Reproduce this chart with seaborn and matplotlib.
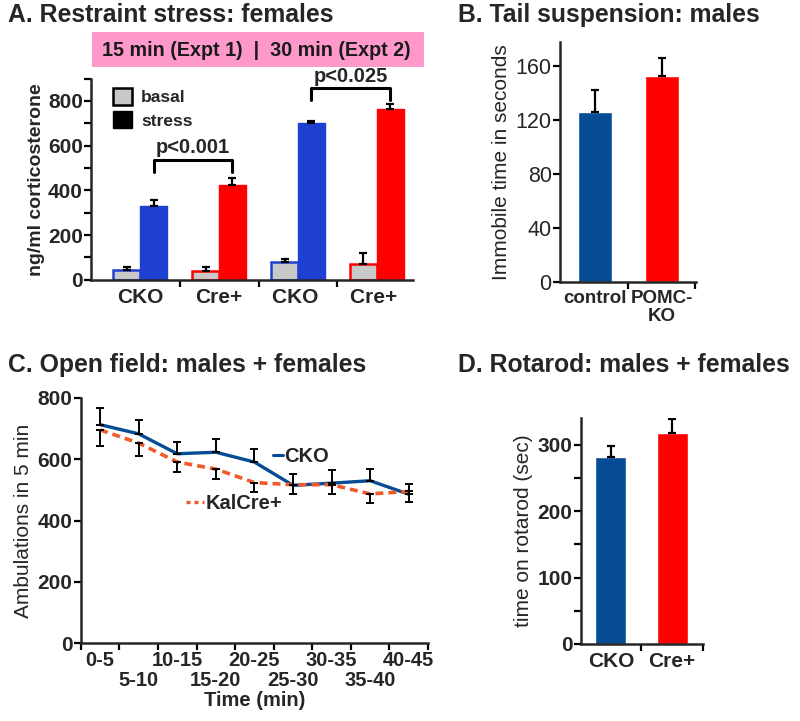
import numpy as np
import pandas as pd
import matplotlib
matplotlib.use('Agg')
import matplotlib.pyplot as plt
from matplotlib.patches import Patch, Rectangle
from matplotlib.lines import Line2D
from matplotlib.ticker import MultipleLocator, FixedLocator, NullFormatter
import seaborn as sns

# panel A: restraint stress, corticosterone (ng/ml)
a_groups = ['CKO', 'Cre+', 'CKO ', 'Cre+ ']
a_basal = [42, 40, 80, 70]
a_basal_err = [14, 15, 12, 50]
a_stress = [330, 425, 700, 765]
a_stress_err = [25, 30, 12, 20]

# panel B: tail suspension
b_groups = ['control', 'POMC-\nKO']
b_vals = [126, 153]
b_err = [16, 13]

# panel C: open field
c_times = ['0-5', '5-10', '10-15', '15-20', '20-25', '25-30', '30-35', '35-40', '40-45']
c_cko = [713, 683, 618, 623, 591, 515, 522, 530, 486]
c_cko_err = [54, 46, 37, 44, 43, 37, 44, 38, 34]
c_kal = [696, 653, 591, 568, 524, 517, 517, 487, 495]
c_kal_err = [52, 42, 31, 31, 32, 31, 31, 30, 36]

# panel D: rotarod
d_groups = ['CKO', 'Cre+']
d_vals = [282, 318]
d_err = [17, 21]

navy = '#064C94'
blue = '#1E40D0'
red = '#FF0000'
orange = '#F05A28'
grey = '#C8C8C8'

sns.set_theme(style='ticks')
plt.rcParams['font.family'] = ['Liberation Sans', 'DejaVu Sans']
plt.rcParams['axes.linewidth'] = 1.8
plt.rcParams['xtick.major.width'] = 1.6
plt.rcParams['ytick.major.width'] = 1.6
plt.rcParams['ytick.minor.width'] = 1.6
plt.rcParams['xtick.minor.width'] = 1.6

fig = plt.figure(figsize=(8, 7.21), dpi=100)

def clean(ax):
    sns.despine(ax=ax)
    ax.tick_params(axis='both', which='major', length=5, color='black', pad=1)
    ax.tick_params(axis='both', which='minor', length=5, color='black')

def caps(ax, patches, errs):
    for p, e in zip(patches, errs):
        xc = p.get_x() + p.get_width() / 2
        ax.errorbar(xc, p.get_height(), yerr=[[0], [e]], color='black',
                    capsize=3, elinewidth=1.6, capthick=1.6)

# ---------- A ----------
axA = fig.add_axes([0.114, 0.612, 0.4025, 0.279])
dfA = pd.DataFrame({
    'group': a_groups * 2,
    'cond': ['basal'] * 4 + ['stress'] * 4,
    'val': a_basal + a_stress,
})
sns.barplot(data=dfA, x='group', y='val', hue='cond', ax=axA, width=0.68,
            legend=False, errorbar=None)
edge_cols = [blue, red, blue, red]
for i, p in enumerate(axA.patches[:4]):
    p.set_facecolor(grey)
    p.set_edgecolor(edge_cols[i])
    p.set_linewidth(1.8)
for i, p in enumerate(axA.patches[4:8]):
    p.set_facecolor(edge_cols[i])
    p.set_edgecolor(edge_cols[i])
caps(axA, axA.patches[:8], a_basal_err + a_stress_err)
axA.set_xlim(-0.62, 3.46)
axA.set_ylim(0, 900)
axA.yaxis.set_major_locator(FixedLocator([0, 200, 400, 600, 800]))
axA.yaxis.set_minor_locator(MultipleLocator(100))
axA.xaxis.set_minor_locator(FixedLocator([0.5, 1.5, 2.5]))
clean(axA)
axA.tick_params(axis='x', which='major', length=0, pad=6)
axA.set_xlabel('')
axA.set_ylabel('ng/ml corticosterone', fontsize=14, fontweight='bold', labelpad=2)
for t in axA.get_xticklabels() + axA.get_yticklabels():
    t.set_fontsize(15)
    t.set_fontweight('bold')

# significance brackets over stress bars
def bracket(ax, p1, p2, y, h, label):
    x1 = p1.get_x() + p1.get_width() / 2
    x2 = p2.get_x() + p2.get_width() / 2
    ax.plot([x1, x1, x2, x2], [y - h, y, y, y - h], color='black', lw=2.2,
            clip_on=False)
    ax.text((x1 + x2) / 2, y + 12, label, ha='center', va='bottom',
            fontsize=14.5, fontweight='bold', clip_on=False)

bracket(axA, axA.patches[4], axA.patches[5], 535, 55, 'p<0.001')
bracket(axA, axA.patches[6], axA.patches[7], 857, 55, 'p<0.025')
axA.legend(handles=[Patch(facecolor=grey, edgecolor='black', lw=1.8),
                    Patch(facecolor='black', edgecolor='black')],
           labels=['basal', 'stress'], loc='upper left', frameon=False,
           bbox_to_anchor=(0.02, 1.03), handlelength=1.1, handleheight=1.1,
           handletextpad=0.5, labelspacing=0.35,
           prop={'weight': 'bold', 'size': 12.5})
fig.text(0.01, 0.979, 'A. Restraint stress: females', fontsize=17.8,
         fontweight='bold', va='center', ha='left')
fig.patches.append(Rectangle(
    (92 / 800, 1 - 67 / 721), (424 - 92) / 800, 35 / 721,
    transform=fig.transFigure, facecolor='#FF99CC', edgecolor='none'))
fig.text(256 / 800, 1 - 50 / 721, '15 min (Expt 1)  |  30 min (Expt 2)',
         fontsize=14.2, fontweight='bold', ha='center', va='center', color='#1a1a1a')

# ---------- B ----------
axB = fig.add_axes([0.70, 0.609, 0.17, 0.333])
dfB = pd.DataFrame({'group': b_groups, 'val': b_vals})
sns.barplot(data=dfB, x='group', y='val', hue='group', palette=[navy, red],
            ax=axB, width=0.5, legend=False, errorbar=None, saturation=1)
caps(axB, axB.patches, b_err)
axB.set_xlim(-0.52, 1.51)
axB.set_ylim(0, 178)
axB.yaxis.set_major_locator(FixedLocator([0, 40, 80, 120, 160]))
axB.xaxis.set_minor_locator(FixedLocator([0.5, 1.5]))
clean(axB)
axB.tick_params(axis='x', which='major', length=0, pad=6)
axB.set_xlabel('')
axB.set_ylabel('Immobile time in seconds', fontsize=15, labelpad=3)
for t in axB.get_yticklabels():
    t.set_fontsize(15.5)
for t in axB.get_xticklabels():
    t.set_fontsize(13.5)
    t.set_fontweight('bold')
    t.set_linespacing(1.05)
fig.text(458 / 800, 0.979, 'B. Tail suspension: males', fontsize=17.8,
         fontweight='bold', va='center', ha='left')

# ---------- C ----------
axC = fig.add_axes([0.101, 0.108, 0.434, 0.34])
dfC = pd.DataFrame({'time': c_times * 2,
                    'geno': ['CKO'] * 9 + ['KalCre+'] * 9,
                    'val': c_cko + c_kal})
sns.lineplot(data=dfC[dfC.geno == 'CKO'], x='time', y='val', ax=axC,
             color=navy, lw=2.4, sort=False)
sns.lineplot(data=dfC[dfC.geno == 'KalCre+'], x='time', y='val', ax=axC,
             color=orange, lw=2.6, ls=(0, (2.2, 1.4)), sort=False)
xs = np.arange(len(c_times))
axC.errorbar(xs, c_cko, yerr=[np.zeros(9), c_cko_err], fmt='none', ecolor='black',
             capsize=3, elinewidth=1.4, capthick=1.4)
axC.errorbar(xs, c_kal, yerr=[c_kal_err, np.zeros(9)], fmt='none', ecolor='black',
             capsize=3, elinewidth=1.4, capthick=1.4)
axC.set_xlim(-0.5, 8.5)
axC.set_ylim(0, 800)
axC.yaxis.set_major_locator(FixedLocator([0, 200, 400, 600, 800]))
# labels alternate on two rows: even on top, odd below
axC.set_xticks(xs[::2], [c_times[i] for i in xs[::2]])
axC.set_xticks(xs[1::2], [c_times[i] for i in xs[1::2]], minor=True)
clean(axC)
axC.tick_params(axis='x', which='major', length=0, pad=6, labelsize=14.5)
axC.tick_params(axis='x', which='minor', length=0, pad=20, labelsize=14.5)
for t in axC.get_xticklabels(which='both') + axC.get_yticklabels():
    t.set_fontweight('bold')
for t in axC.get_yticklabels():
    t.set_fontsize(15)
# tick marks at the bin boundaries
secC = axC.secondary_xaxis('bottom')
secC.set_xticks(np.arange(-0.5, 9, 1.0))
secC.xaxis.set_major_formatter(NullFormatter())
secC.tick_params(length=5, width=1.6, color='black')
secC.spines['bottom'].set_visible(False)
axC.set_xlabel('Time (min)', fontsize=14.5, fontweight='bold', labelpad=1)
axC.set_ylabel('Ambulations in 5 min', fontsize=15, labelpad=3)
legC1 = axC.legend(handles=[Line2D([], [], color=navy, lw=2.2)], labels=['CKO'],
                   loc='center left', bbox_to_anchor=(0.5, 0.76), frameon=False,
                   handlelength=0.5, handletextpad=0.1,
                   prop={'size': 14.5, 'weight': 'bold'})
axC.add_artist(legC1)
axC.legend(handles=[Line2D([], [], color=orange, lw=2.4, ls=(0, (1.2, 1.2)))],
           labels=['KalCre+'], loc='center left', bbox_to_anchor=(0.25, 0.57),
           frameon=False, handlelength=0.9, handletextpad=0.1,
           prop={'size': 14.5, 'weight': 'bold'})
fig.text(0.01, 1 - 365 / 721, 'C. Open field: males + females', fontsize=17.8,
         fontweight='bold', va='center', ha='left')

# ---------- D ----------
axD = fig.add_axes([0.726, 0.107, 0.1525, 0.3135])
dfD = pd.DataFrame({'group': d_groups, 'val': d_vals})
sns.barplot(data=dfD, x='group', y='val', hue='group', palette=[navy, red],
            ax=axD, width=0.51, legend=False, errorbar=None, saturation=1)
caps(axD, axD.patches, d_err)
axD.set_xlim(-0.49, 1.5)
axD.set_ylim(0, 341)
axD.yaxis.set_major_locator(FixedLocator([0, 100, 200, 300]))
axD.yaxis.set_minor_locator(MultipleLocator(50))
axD.xaxis.set_minor_locator(FixedLocator([0.5, 1.5]))
clean(axD)
axD.tick_params(axis='x', which='major', length=0, pad=6)
axD.set_xlabel('')
axD.set_ylabel('time on rotarod (sec)', fontsize=15, labelpad=3)
for t in axD.get_xticklabels() + axD.get_yticklabels():
    t.set_fontsize(15)
    t.set_fontweight('bold')
fig.text(458 / 800, 1 - 365 / 721, 'D. Rotarod: males + females', fontsize=17.8,
         fontweight='bold', va='center', ha='left')

fig.savefig('out.png', dpi=100)
